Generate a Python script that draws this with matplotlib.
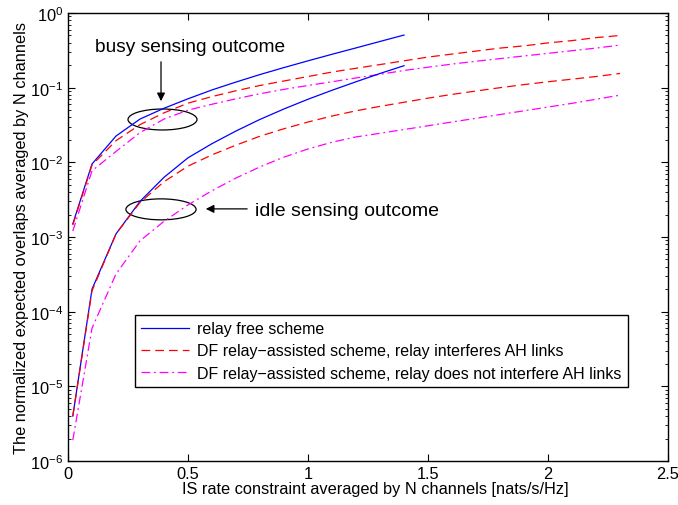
import numpy as np
import matplotlib
matplotlib.use("Agg")
import matplotlib.pyplot as plt
from matplotlib.patches import Ellipse

plt.rcParams['font.family'] = ['Liberation Sans', 'DejaVu Sans']
plt.rcParams['mathtext.fontset'] = 'custom'
plt.rcParams['mathtext.rm'] = 'Liberation Sans'

# IS rate constraint (x values)
x_free = [0.02, 0.1, 0.2, 0.3, 0.4, 0.5, 0.6, 0.7, 0.8, 0.9, 1.0, 1.1, 1.2, 1.3, 1.4]
x_relay = [0.02, 0.1, 0.2, 0.3, 0.4, 0.5, 0.6, 0.7, 0.8, 0.9, 1.0, 1.1, 1.2,
           1.3, 1.4, 1.5, 1.6, 1.7, 1.8, 1.9, 2.0, 2.1, 2.2, 2.3]

# busy sensing outcome
busy_free = [1.5e-3, 9.5e-3, 0.0225, 0.038, 0.053, 0.071, 0.0933, 0.119, 0.150,
             0.186, 0.229, 0.280, 0.341, 0.416, 0.507]
busy_df_interf = [1.45e-3, 9.2e-3, 0.0195, 0.032, 0.046, 0.062, 0.076, 0.091, 0.107,
                  0.123, 0.141, 0.162, 0.182, 0.204, 0.229, 0.257, 0.282, 0.309,
                  0.339, 0.363, 0.398, 0.427, 0.468, 0.50]
busy_df_nointerf = [1.2e-3, 7.7e-3, 0.014, 0.025, 0.038, 0.050, 0.060, 0.071, 0.083,
                    0.095, 0.107, 0.120, 0.135, 0.151, 0.170, 0.188, 0.207, 0.226,
                    0.245, 0.266, 0.288, 0.313, 0.339, 0.372]

# idle sensing outcome
idle_free = [4e-6, 2e-4, 1.1e-3, 3.0e-3, 6.3e-3, 0.0115, 0.0178, 0.0263, 0.0376,
             0.0519, 0.070, 0.0923, 0.120, 0.155, 0.197]
idle_df_interf = [4e-6, 1.9e-4, 1.1e-3, 2.9e-3, 5.5e-3, 8.9e-3, 0.0126, 0.017, 0.0224,
                  0.0282, 0.0347, 0.0417, 0.049, 0.0562, 0.0638, 0.0724, 0.0813,
                  0.0902, 0.1, 0.11, 0.12, 0.13, 0.141, 0.155]
idle_df_nointerf = [1.9e-6, 6e-5, 3.2e-4, 8.9e-4, 1.62e-3, 2.69e-3, 4.17e-3, 6.17e-3,
                    8.7e-3, 0.01175, 0.0151, 0.0186, 0.0219, 0.0245, 0.0275, 0.0309,
                    0.0347, 0.0389, 0.0437, 0.049, 0.055, 0.0617, 0.070, 0.0794]

labels = ['relay free scheme',
          'DF relay\u2212assisted scheme, relay interferes AH links',
          'DF relay\u2212assisted scheme, relay does not interfere AH links']

fig = plt.figure(figsize=(6.78, 5.06), dpi=100)
ax = fig.add_axes([0.1003, 0.087, 0.885, 0.8853])

dash = (0, (7, 4))
dashdot = (0, (7, 3, 1.5, 3))
ax.semilogy(x_free, busy_free, color='blue', lw=0.9, label=labels[0])
ax.semilogy(x_relay, busy_df_interf, color='red', lw=0.9, ls=dash, label=labels[1])
ax.semilogy(x_relay, busy_df_nointerf, color='magenta', lw=0.9, ls=dashdot, label=labels[2])
ax.semilogy(x_free, idle_free, color='blue', lw=0.9)
ax.semilogy(x_relay, idle_df_interf, color='red', lw=0.9, ls=dash)
ax.semilogy(x_relay, idle_df_nointerf, color='magenta', lw=0.9, ls=dashdot)

ax.set_xlim(0, 2.5)
ax.set_ylim(1e-6, 1)
ax.set_xticks([0, 0.5, 1, 1.5, 2, 2.5])
ax.set_xticklabels(['0', '0.5', '1', '1.5', '2', '2.5'])
ax.tick_params(which='both', direction='in', top=True, right=True, labelsize=11.8)
ax.tick_params(which='major', length=5)
ax.tick_params(which='minor', length=2.5)
for s in ax.spines.values():
    s.set_linewidth(1.0)

ax.set_xlabel('IS rate constraint averaged by N channels [nats/s/Hz]', fontsize=11.8, labelpad=1)
ax.xaxis.set_label_coords(0.512, -0.045)
ax.set_ylabel('The normalized expected overlaps averaged by N channels', fontsize=11.8, labelpad=1)

# ellipses marking the two groups of curves
ax.add_patch(Ellipse((0.1575, 0.7623), 0.115, 0.0468, transform=ax.transAxes,
                     fill=False, color='black', lw=0.9))
ax.add_patch(Ellipse((0.155, 0.5617), 0.117, 0.0468, transform=ax.transAxes,
                     fill=False, color='black', lw=0.9))

ax.annotate('', xy=(0.3875, 0.0605), xytext=(0.3875, 0.242),
            arrowprops=dict(arrowstyle='-|>', color='black', lw=0.9, mutation_scale=12))
ax.text(0.508, 0.36, 'busy sensing outcome', fontsize=13.8, ha='center', va='center')
ax.annotate('', xy=(0.5625, 2.38e-3), xytext=(0.758, 2.38e-3),
            arrowprops=dict(arrowstyle='-|>', color='black', lw=0.9, mutation_scale=12))
ax.text(0.779, 2.25e-3, 'idle sensing outcome', fontsize=14, ha='left', va='center')

leg = ax.legend(loc='lower left', bbox_to_anchor=(0.1117, 0.165), borderaxespad=0,
                fontsize=11.5, fancybox=False, edgecolor='black', framealpha=1,
                handlelength=3.0, borderpad=0.4, labelspacing=0.45, handletextpad=0.5)
leg.get_frame().set_linewidth(1.0)

fig.savefig('out.png', dpi=100)
